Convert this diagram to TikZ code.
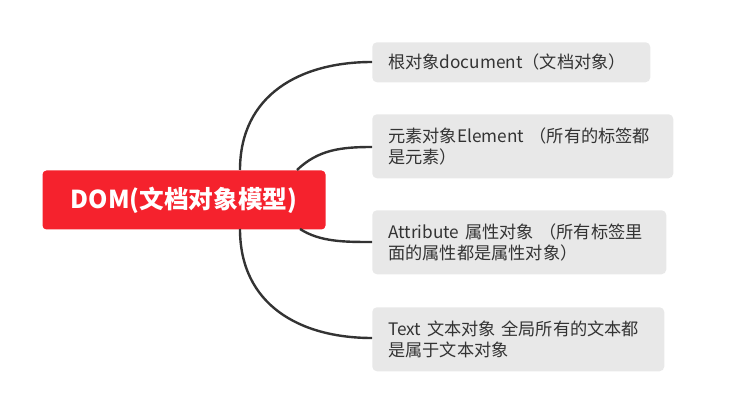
\documentclass[tikz,border=0pt]{standalone}
\usepackage{fontspec}
\setmainfont{Noto Sans CJK SC}
\definecolor{rootred}{HTML}{F5222D}
\definecolor{leafbg}{HTML}{E8E8E8}
\definecolor{txt}{HTML}{333333}
\begin{document}
\begin{tikzpicture}[x=0.75pt,y=-0.75pt,
  rootbox/.style={fill=rootred,rounded corners=3pt,text=white,font=\fontsize{18.5}{22}\selectfont\bfseries,minimum width=283*0.75pt,minimum height=59*0.75pt,inner sep=0pt},
  leaf/.style={fill=leafbg,rounded corners=3.5pt,text=txt,font=\fontsize{12.9}{16}\selectfont,align=left,anchor=north west,inner xsep=12pt,inner ysep=0pt},
  link/.style={draw=txt,line width=1.8pt}]
\path[use as bounding box] (0,0) rectangle (756,402);
\node[rootbox] (root) at (184,200) {DOM(文档对象模型)};
\node[leaf,text width=246*0.75pt,minimum height=40*0.75pt] (a) at (372,42) {根对象document（文档对象）};
\node[leaf,text width=269*0.75pt,minimum height=64*0.75pt] (b) at (372,114) {元素对象Element （所有的标签都\\是元素）};
\node[leaf,text width=262*0.75pt,minimum height=64*0.75pt] (c) at (372,210) {Attribute 属性对象 （所有标签里\\面的属性都是属性对象）};
\node[leaf,text width=260*0.75pt,minimum height=64*0.75pt] (d) at (372,307) {Text 文本对象 全局所有的文本都\\是属于文本对象};
\coordinate (r1) at (240,170);
\coordinate (r2) at (297,170);
\coordinate (r3) at (300,229);
\coordinate (r4) at (240,229);
\draw[link] (r1) .. controls (240,95) and (300,62) .. (a.west |- 0,62);
\draw[link] (r2) .. controls (318,150) and (340,147) .. (b.west |- 0,147);
\draw[link] (r3) .. controls (320,242) and (345,242) .. (c.west |- 0,242);
\draw[link] (r4) .. controls (240,305) and (300,338) .. (d.west |- 0,338);
\end{tikzpicture}
\end{document}
